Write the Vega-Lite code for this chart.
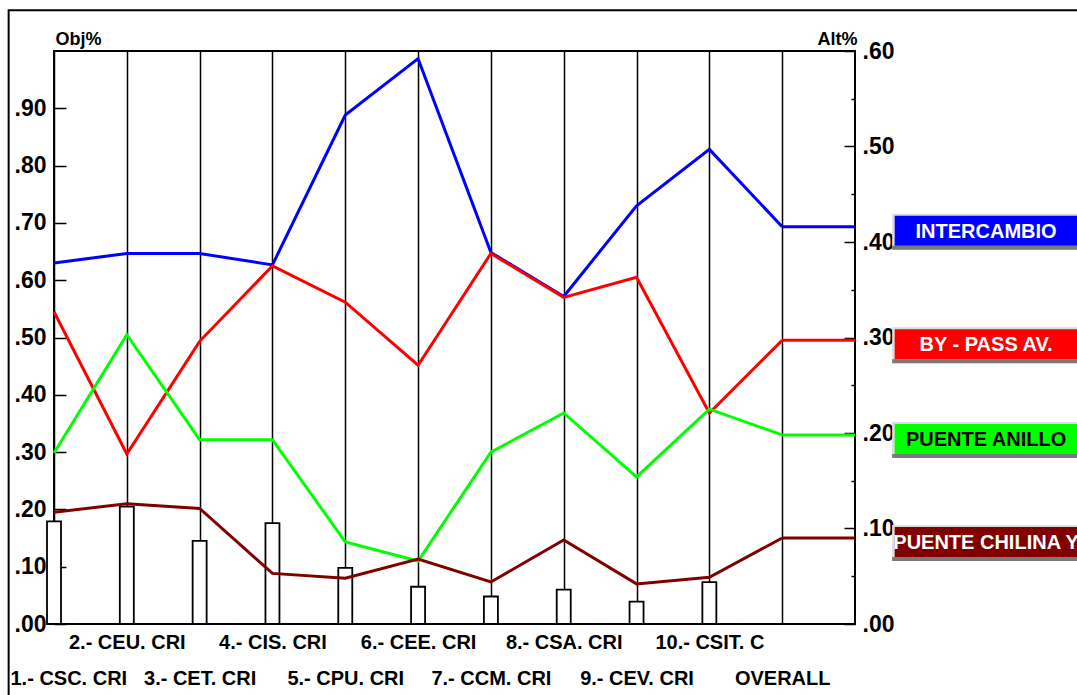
{
  "$schema": "https://vega.github.io/schema/vega-lite/v6.json",
  "width": 801,
  "height": 573,
  "autosize": {"type": "none"},
  "padding": {"left": 54, "top": 51, "right": 222, "bottom": 71},
  "background": "white",
  "config": {
    "view": {"stroke": "black", "strokeWidth": 2},
    "font": "Liberation Sans",
    "axis": {
      "labelFont": "Liberation Sans",
      "titleFont": "Liberation Sans",
      "labelFontWeight": "bold",
      "titleFontWeight": "bold",
      "labelColor": "black",
      "titleColor": "black",
      "labelFontSize": 23,
      "titleFontSize": 18
    }
  },
  "datasets": {
    "weights": [
      {"k": 1, "obj": 0.179},
      {"k": 2, "obj": 0.205},
      {"k": 3, "obj": 0.145},
      {"k": 4, "obj": 0.176},
      {"k": 5, "obj": 0.098},
      {"k": 6, "obj": 0.065},
      {"k": 7, "obj": 0.048},
      {"k": 8, "obj": 0.060},
      {"k": 9, "obj": 0.039},
      {"k": 10, "obj": 0.073}
    ],
    "alts": [
      {"alt": "INTERCAMBIO", "k": 1, "v": 0.378},
      {"alt": "INTERCAMBIO", "k": 2, "v": 0.388},
      {"alt": "INTERCAMBIO", "k": 3, "v": 0.388},
      {"alt": "INTERCAMBIO", "k": 4, "v": 0.376},
      {"alt": "INTERCAMBIO", "k": 5, "v": 0.533},
      {"alt": "INTERCAMBIO", "k": 6, "v": 0.592},
      {"alt": "INTERCAMBIO", "k": 7, "v": 0.389},
      {"alt": "INTERCAMBIO", "k": 8, "v": 0.343},
      {"alt": "INTERCAMBIO", "k": 9, "v": 0.438},
      {"alt": "INTERCAMBIO", "k": 10, "v": 0.497},
      {"alt": "INTERCAMBIO", "k": 11, "v": 0.416},
      {"alt": "BY - PASS AV.", "k": 1, "v": 0.327},
      {"alt": "BY - PASS AV.", "k": 2, "v": 0.178},
      {"alt": "BY - PASS AV.", "k": 3, "v": 0.296},
      {"alt": "BY - PASS AV.", "k": 4, "v": 0.375},
      {"alt": "BY - PASS AV.", "k": 5, "v": 0.337},
      {"alt": "BY - PASS AV.", "k": 6, "v": 0.271},
      {"alt": "BY - PASS AV.", "k": 7, "v": 0.388},
      {"alt": "BY - PASS AV.", "k": 8, "v": 0.342},
      {"alt": "BY - PASS AV.", "k": 9, "v": 0.363},
      {"alt": "BY - PASS AV.", "k": 10, "v": 0.221},
      {"alt": "BY - PASS AV.", "k": 11, "v": 0.297},
      {"alt": "PUENTE ANILLO", "k": 1, "v": 0.179},
      {"alt": "PUENTE ANILLO", "k": 2, "v": 0.303},
      {"alt": "PUENTE ANILLO", "k": 3, "v": 0.193},
      {"alt": "PUENTE ANILLO", "k": 4, "v": 0.193},
      {"alt": "PUENTE ANILLO", "k": 5, "v": 0.086},
      {"alt": "PUENTE ANILLO", "k": 6, "v": 0.066},
      {"alt": "PUENTE ANILLO", "k": 7, "v": 0.180},
      {"alt": "PUENTE ANILLO", "k": 8, "v": 0.221},
      {"alt": "PUENTE ANILLO", "k": 9, "v": 0.154},
      {"alt": "PUENTE ANILLO", "k": 10, "v": 0.225},
      {"alt": "PUENTE ANILLO", "k": 11, "v": 0.198},
      {"alt": "PUENTE CHILINA Y", "k": 1, "v": 0.117},
      {"alt": "PUENTE CHILINA Y", "k": 2, "v": 0.126},
      {"alt": "PUENTE CHILINA Y", "k": 3, "v": 0.121},
      {"alt": "PUENTE CHILINA Y", "k": 4, "v": 0.053},
      {"alt": "PUENTE CHILINA Y", "k": 5, "v": 0.048},
      {"alt": "PUENTE CHILINA Y", "k": 6, "v": 0.068},
      {"alt": "PUENTE CHILINA Y", "k": 7, "v": 0.044},
      {"alt": "PUENTE CHILINA Y", "k": 8, "v": 0.088},
      {"alt": "PUENTE CHILINA Y", "k": 9, "v": 0.042},
      {"alt": "PUENTE CHILINA Y", "k": 10, "v": 0.049},
      {"alt": "PUENTE CHILINA Y", "k": 11, "v": 0.090}
    ]
  },
  "resolve": {"scale": {"y": "independent"}},
  "layer": [
    {
      "layer": [
        {
          "data": {"name": "weights"},
          "mark": {"type": "bar", "orient": "vertical", "width": 14, "fill": "white", "stroke": "black", "strokeWidth": 1.8, "clip": false},
          "encoding": {
            "x": {
              "field": "k", "type": "quantitative",
              "scale": {"domain": [1, 12], "nice": false, "zero": false, "padding": 0},
              "axis": {
                "values": [1, 2, 3, 4, 5, 6, 7, 8, 9, 10, 11],
                "grid": true, "gridColor": "black", "gridWidth": 1.5, "gridOpacity": 1,
                "ticks": false, "domain": false, "title": null,
                "labelExpr": "['1.- CSC. CRI', '2.- CEU. CRI', '3.- CET. CRI', '4.- CIS. CRI', '5.- CPU. CRI', '6.- CEE. CRI', '7.- CCM. CRI', '8.- CSA. CRI', '9.- CEV. CRI', '10.- CSIT. C', 'OVERALL'][datum.value - 1]",
                "labelFontSize": 20,
                "labelBaseline": "top",
                "labelPadding": {"condition": {"test": "datum.value % 2 == 0", "value": 8}, "value": 44},
                "labelAlign": {"condition": {"test": "datum.value == 1", "value": "left"}, "value": "center"},
                "labelOffset": {"condition": {"test": "datum.value == 1", "value": -44}, "value": 0},
                "labelOverlap": false, "labelFlush": false, "labelBound": false
              }
            },
            "y": {
              "field": "obj", "type": "quantitative",
              "scale": {"domain": [0, 1], "nice": false, "padding": 0},
              "axis": {
                "orient": "left",
                "values": [0, 0.05, 0.1, 0.15, 0.2, 0.25, 0.3, 0.35, 0.4, 0.45, 0.5, 0.55, 0.6, 0.65, 0.7, 0.75, 0.8, 0.85, 0.9, 0.95],
                "tickSize": {"condition": {"test": "round(datum.value * 100) % 10 == 0", "value": -12}, "value": -5},
                "tickColor": "black", "tickWidth": 1.5,
                "labelExpr": "round(datum.value * 100) % 10 == 0 ? substring(format(datum.value, '.2f'), 1) : ''",
                "labelPadding": 20,
                "labelBaseline": "middle",
                "domain": false, "grid": false,
                "title": "Obj%", "titleAngle": 0, "titleAlign": "left", "titleBaseline": "alphabetic",
                "titleX": 1, "titleY": -7,
                "labelOverlap": false, "labelFlush": false
              }
            }
          }
        },
        {
          "data": {"values": [{}]},
          "mark": {"type": "rect", "filled": false, "stroke": "black", "strokeWidth": 2, "clip": false},
          "encoding": {
            "x": {"datum": 0.377, "type": "quantitative", "scale": {"domain": [1, 12], "nice": false, "zero": false, "padding": 0}},
            "x2": {"datum": 20},
            "y": {"datum": 1.071, "type": "quantitative", "scale": {"domain": [0, 1], "nice": false, "padding": 0}},
            "y2": {"datum": -1}
          }
        }
      ]
    },
    {
      "data": {"name": "alts"},
      "layer": [
        {
          "mark": {"type": "line", "strokeWidth": 3, "clip": false},
          "encoding": {
            "x": {"field": "k", "type": "quantitative", "scale": {"domain": [1, 12], "nice": false, "zero": false, "padding": 0}},
            "y": {
              "field": "v", "type": "quantitative",
              "scale": {"domain": [0, 0.6], "nice": false, "padding": 0},
              "axis": {
                "orient": "right",
                "values": [0, 0.05, 0.1, 0.15, 0.2, 0.25, 0.3, 0.35, 0.4, 0.45, 0.5, 0.55, 0.6],
                "tickSize": {"condition": {"test": "round(datum.value * 100) % 10 == 0", "value": -11}, "value": -4},
                "tickColor": "black", "tickWidth": 1.5,
                "labelExpr": "round(datum.value * 100) % 10 == 0 ? substring(format(datum.value, '.2f'), 1) : ''",
                "labelPadding": 18,
                "labelBaseline": "middle",
                "domain": false, "grid": false,
                "title": "Alt%", "titleAngle": 0, "titleAlign": "right", "titleBaseline": "alphabetic",
                "titleX": 2, "titleY": -7,
                "labelOverlap": false, "labelFlush": false
              }
            },
            "color": {
              "field": "alt", "type": "nominal",
              "scale": {"domain": ["INTERCAMBIO", "BY - PASS AV.", "PUENTE ANILLO", "PUENTE CHILINA Y"], "range": ["#0000ff", "#ff0000", "#00ff00", "#800000"]},
              "legend": null
            }
          }
        },
        {
          "transform": [{"filter": "datum.k == 11"}],
          "mark": {"type": "rule", "strokeWidth": 3, "clip": false},
          "encoding": {
            "x": {"field": "k", "type": "quantitative", "scale": {"domain": [1, 12], "nice": false, "zero": false, "padding": 0}},
            "x2": {"datum": 12},
            "y": {"field": "v", "type": "quantitative", "scale": {"domain": [0, 0.6], "nice": false, "padding": 0}},
            "color": {"field": "alt", "type": "nominal", "legend": null}
          }
        },
        {
          "transform": [{"filter": "datum.k == 11"}],
          "mark": {"type": "rect", "color": "#dcdcdc", "yOffset": -13, "y2Offset": 23, "clip": false},
          "encoding": {
            "x": {"datum": 12.51, "type": "quantitative", "scale": {"domain": [1, 12], "nice": false, "zero": false, "padding": 0}},
            "x2": {"datum": 16},
            "y": {"field": "v", "type": "quantitative", "scale": {"domain": [0, 0.6], "nice": false, "padding": 0}},
            "y2": {"field": "v"}
          }
        },
        {
          "transform": [{"filter": "datum.k == 11"}],
          "mark": {"type": "rect", "color": "#7a7a7a", "yOffset": 19, "y2Offset": 23, "clip": false},
          "encoding": {
            "x": {"datum": 12.51, "type": "quantitative", "scale": {"domain": [1, 12], "nice": false, "zero": false, "padding": 0}},
            "x2": {"datum": 16},
            "y": {"field": "v", "type": "quantitative", "scale": {"domain": [0, 0.6], "nice": false, "padding": 0}},
            "y2": {"field": "v"}
          }
        },
        {
          "transform": [{"filter": "datum.k == 11"}],
          "mark": {"type": "rect", "yOffset": -11, "y2Offset": 19, "clip": false},
          "encoding": {
            "x": {"datum": 12.545, "type": "quantitative", "scale": {"domain": [1, 12], "nice": false, "zero": false, "padding": 0}},
            "x2": {"datum": 16},
            "y": {"field": "v", "type": "quantitative", "scale": {"domain": [0, 0.6], "nice": false, "padding": 0}},
            "y2": {"field": "v"},
            "color": {"field": "alt", "type": "nominal", "legend": null}
          }
        },
        {
          "transform": [{"filter": "datum.k == 11"}],
          "mark": {"type": "text", "align": "center", "baseline": "middle", "yOffset": 5, "fontSize": 20, "fontWeight": "bold", "font": "Liberation Sans", "clip": false},
          "encoding": {
            "x": {"datum": 13.8, "type": "quantitative", "scale": {"domain": [1, 12], "nice": false, "zero": false, "padding": 0}},
            "y": {"field": "v", "type": "quantitative", "scale": {"domain": [0, 0.6], "nice": false, "padding": 0}},
            "text": {"field": "alt"},
            "color": {"condition": {"test": "datum.alt == 'PUENTE ANILLO'", "value": "black"}, "value": "white"}
          }
        }
      ]
    }
  ]
}
